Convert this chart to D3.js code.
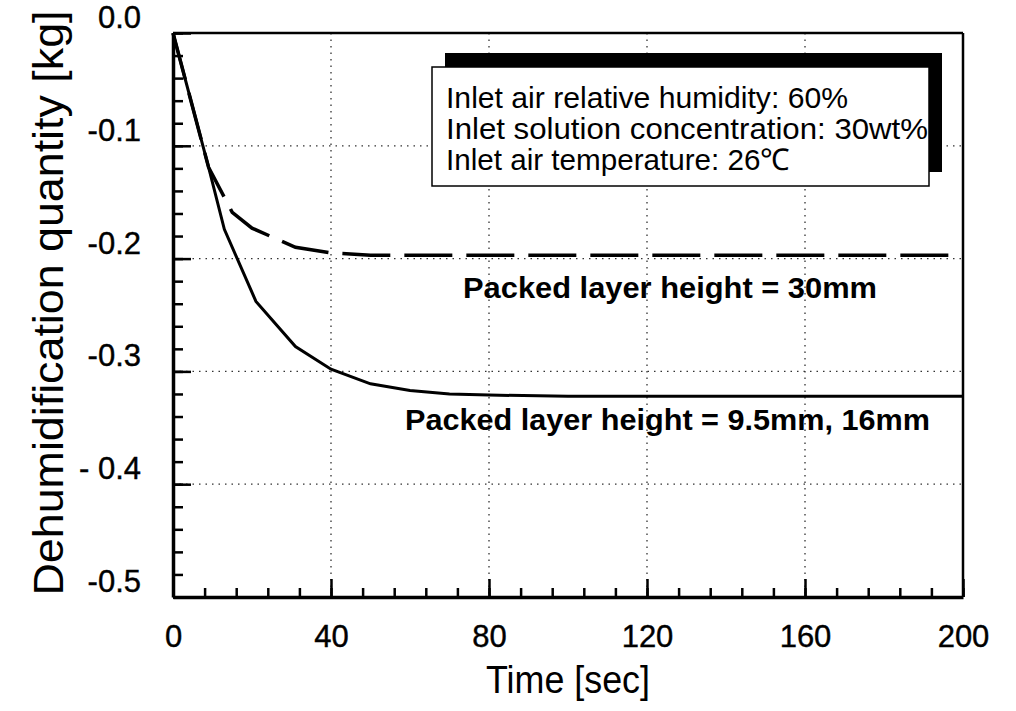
<!DOCTYPE html>
<html>
<head>
<meta charset="utf-8">
<script src="https://cdn.jsdelivr.net/npm/d3@7"></script>
<style>
  html, body { margin: 0; padding: 0; background: #fff; }
  text { font-family: "Liberation Sans", Arial, Helvetica, sans-serif; fill: #000; }
</style>
</head>
<body>
<svg id="chart" width="1016" height="711"></svg>
<script>
// ---- data ----
const xTickValues = [0, 40, 80, 120, 160, 200];
const xTickLabels = ["0", "40", "80", "120", "160", "200"];
const yTickValues = [-0.5, -0.4, -0.3, -0.2, -0.1, 0.0];
const yTickLabels = ["-0.5", "- 0.4", "-0.3", "-0.2", "-0.1", "0.0"];

// Packed layer height = 9.5mm, 16mm (solid)
const solidTime  = [0, 9, 13, 21, 31, 40, 50, 60, 70, 80, 100, 120, 140, 160, 180, 200];
const solidValue = [0, -0.119, -0.174, -0.238, -0.278, -0.298, -0.311, -0.317, -0.320, -0.321, -0.322, -0.322, -0.322, -0.322, -0.322, -0.322];

// Packed layer height = 30mm (dashed)
const dashTime  = [0, 9, 15, 20, 31, 40, 50, 60, 80, 100, 120, 140, 160, 180, 200];
const dashValue = [0, -0.119, -0.159, -0.173, -0.190, -0.195, -0.197, -0.197, -0.197, -0.197, -0.197, -0.197, -0.197, -0.197, -0.197];

const legendLines = [
  "Inlet air relative humidity: 60%",
  "Inlet solution concentration: 30wt%",
  "Inlet air temperature: 26\u2103"
];
const annot30 = "Packed layer height = 30mm";
const annotSmall = "Packed layer height = 9.5mm, 16mm";
const xTitle = "Time [sec]";
const yTitle = "Dehumidification quantity [kg]";

// ---- layout ----
const svg = d3.select("#chart");
const L = 173, R = 963, T = 33, B = 597;
const x = d3.scaleLinear().domain([0, 200]).range([L, R]);
const y = d3.scaleLinear().domain([-0.5, 0]).range([B, T]);

// grid (dotted)
const grid = svg.append("g").attr("stroke", "#333").attr("stroke-width", 1.3)
  .attr("stroke-dasharray", "1.5,5");
grid.selectAll("line.gx").data(xTickValues.slice(1, -1)).join("line")
  .attr("x1", d => x(d)).attr("x2", d => x(d)).attr("y1", T).attr("y2", B);
grid.selectAll("line.gy").data(yTickValues.slice(1, -1)).join("line")
  .attr("x1", L).attr("x2", R).attr("y1", d => y(d)).attr("y2", d => y(d));

// frame
svg.append("line").attr("x1", L).attr("x2", R).attr("y1", T).attr("y2", T).attr("stroke", "#000").attr("stroke-width", 2.5);
svg.append("line").attr("x1", R).attr("x2", R).attr("y1", T).attr("y2", B).attr("stroke", "#000").attr("stroke-width", 2.5);

// minor ticks x
const minorX = d3.range(0, 201, 8);
svg.append("g").attr("transform", `translate(0,${B})`)
  .call(d3.axisBottom(x).tickValues(minorX).tickSize(-9).tickFormat(""))
  .call(g => g.select(".domain").remove())
  .call(g => g.selectAll("line").attr("stroke-width", 2.5));
// minor ticks y
const minorY = d3.range(-0.5, 0.0001, 0.02);
svg.append("g").attr("transform", `translate(${L},0)`)
  .call(d3.axisLeft(y).tickValues(minorY).tickSize(-10).tickFormat(""))
  .call(g => g.select(".domain").remove())
  .call(g => g.selectAll("line").attr("stroke-width", 2.5));

// major x axis
svg.append("g").attr("transform", `translate(0,${B})`)
  .call(d3.axisBottom(x).tickValues(xTickValues).tickSize(-18).tickSizeOuter(0).tickPadding(28)
    .tickFormat((d, i) => xTickLabels[i]))
  .call(g => g.select(".domain").attr("stroke-width", 3.5))
  .call(g => g.selectAll("line").attr("stroke-width", 2.5))
  .call(g => g.selectAll("text").attr("font-size", 31).attr("stroke", "#000").attr("stroke-width", 0.4)
    .attr("font-family", "Liberation Sans, Arial, sans-serif"));

// major y axis
svg.append("g").attr("transform", `translate(${L},0)`)
  .call(d3.axisLeft(y).tickValues(yTickValues).tickSize(-18).tickSizeOuter(0).tickPadding(32)
    .tickFormat((d, i) => yTickLabels[i]))
  .call(g => g.select(".domain").attr("stroke-width", 3.5))
  .call(g => g.selectAll("line").attr("stroke-width", 2.5))
  .call(g => g.selectAll("text").attr("font-size", 31).attr("dy", "-0.18em")
    .attr("stroke", "#000").attr("stroke-width", 0.4)
    .attr("font-family", "Liberation Sans, Arial, sans-serif"));

// curves
const lineGen = d3.line().x(d => x(d[0])).y(d => y(d[1]));
svg.append("path").datum(dashTime.map((t, i) => [t, dashValue[i]]))
  .attr("d", lineGen).attr("fill", "none").attr("stroke", "#000")
  .attr("stroke-width", 3.5).attr("stroke-dasharray", "48,14");
svg.append("path").datum(solidTime.map((t, i) => [t, solidValue[i]]))
  .attr("d", lineGen).attr("fill", "none").attr("stroke", "#000")
  .attr("stroke-width", 3);

// legend box with shadow
svg.append("rect").attr("x", 445).attr("y", 53).attr("width", 497).attr("height", 119).attr("fill", "#000");
svg.append("rect").attr("x", 432).attr("y", 67).attr("width", 497).attr("height", 119)
  .attr("fill", "#fff").attr("stroke", "#000").attr("stroke-width", 1.5);
const legendWidths = [402, 482, 344];
svg.selectAll("text.leg").data(legendLines).join("text")
  .attr("class", "leg")
  .attr("x", 446).attr("y", (d, i) => 108 + i * 31)
  .attr("font-size", 30)
  .attr("textLength", (d, i) => legendWidths[i]).attr("lengthAdjust", "spacingAndGlyphs")
  .text(d => d);

// annotations
svg.append("text").attr("x", 463).attr("y", 298).attr("font-size", 29).attr("font-weight", "bold")
  .attr("textLength", 414).attr("lengthAdjust", "spacingAndGlyphs").text(annot30);
svg.append("text").attr("x", 405).attr("y", 430).attr("font-size", 29).attr("font-weight", "bold")
  .attr("textLength", 525).attr("lengthAdjust", "spacingAndGlyphs").text(annotSmall);

// axis titles
svg.append("text").attr("x", (L + R) / 2).attr("y", 693).attr("text-anchor", "middle")
  .attr("font-size", 38).attr("textLength", 164).attr("lengthAdjust", "spacingAndGlyphs").text(xTitle);
svg.append("text").attr("transform", "translate(63,303) rotate(-90)").attr("text-anchor", "middle")
  .attr("font-size", 42).attr("textLength", 585).attr("lengthAdjust", "spacingAndGlyphs").text(yTitle);
</script>
</body>
</html>
